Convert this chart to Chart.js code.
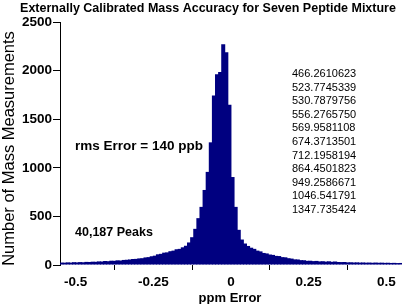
<!DOCTYPE html>
<html>
<head>
<meta charset="utf-8">
<script src="https://cdn.jsdelivr.net/npm/chart.js@4/dist/chart.umd.min.js"></script>
<style>
  html, body { margin: 0; padding: 0; background: #fff; }
  #wrap { width: 402px; height: 304px; position: relative; }
</style>
</head>
<body>
<div id="wrap"><canvas id="c" width="402" height="304"></canvas></div>
<script>
// ---- data ----
const chartTitle = "Externally Calibrated Mass Accuracy for Seven Peptide Mixture";
const xAxisTitle = "ppm Error";
const yAxisTitle = "Number of Mass Measurements";
const rmsLabel = "rms Error = 140 ppb";
const peaksLabel = "40,187 Peaks";
const peptideMasses = ["466.2610623","523.7745339","530.7879756","556.2765750","569.9581108",
  "674.3713501","712.1958194","864.4501823","949.2586671","1046.541791","1347.735424"];

// bin centres (ppm error)
const binCenters = [
  -0.545,-0.535,-0.525,-0.515,-0.505,-0.495,-0.485,-0.475,-0.465,-0.455,
  -0.445,-0.435,-0.425,-0.415,-0.405,-0.395,-0.385,-0.375,-0.365,-0.355,
  -0.345,-0.335,-0.325,-0.315,-0.305,-0.295,-0.285,-0.275,-0.265,-0.255,
  -0.245,-0.235,-0.225,-0.215,-0.205,-0.195,-0.185,-0.175,-0.165,-0.155,
  -0.145,-0.135,-0.125,-0.115,-0.105,-0.095,-0.085,-0.075,-0.065,-0.055,
  -0.045,-0.035,-0.025,-0.015,-0.005,0.005,0.015,0.025,0.035,0.045,
  0.055,0.065,0.075,0.085,0.095,0.105,0.115,0.125,0.135,0.145,
  0.155,0.165,0.175,0.185,0.195,0.205,0.215,0.225,0.235,0.245,
  0.255,0.265,0.275,0.285,0.295,0.305,0.315,0.325,0.335,0.345,
  0.355,0.365,0.375,0.385,0.395,0.405,0.415,0.425,0.435,0.445,
  0.455,0.465,0.475,0.485,0.495,0.505,0.515,0.525,0.535,0.545
];
// counts per bin
const binCounts = [
  25,24,27,25,29,27,30,28,32,31,
  34,33,37,36,41,39,44,43,48,46,
  52,54,57,62,63,68,70,78,81,90,
  96,110,115,127,130,142,148,162,166,182,
  198,232,286,372,482,598,772,958,1262,1745,
  1962,1985,2272,2190,1648,905,598,362,262,221,
  196,178,166,148,140,124,119,108,104,94,
  92,81,79,70,66,58,57,50,49,43,
  44,40,42,37,39,35,38,33,36,31,
  30,31,27,28,26,27,25,26,24,25,
  23,25,23,24,22,23,21,22,20,21
];
const xTickValues = [-0.5, -0.25, 0, 0.25, 0.5];
const xTickLabels = ["-0.5", "-0.25", "0", "0.25", "0.5"];
const yTickValues = [0, 500, 1000, 1500, 2000, 2500];
const yTickLabels = ["0", "500", "1000", "1500", "2000", "2500"];

const FONT = '"Liberation Sans", Arial, Helvetica, sans-serif';
const BAR = '#000080';

const textPlugin = {
  id: 'texts',
  afterDraw(chart) {
    const ctx = chart.ctx;
    ctx.save();
    ctx.fillStyle = '#000';
    // title
    ctx.font = 'bold 12.5px ' + FONT;
    ctx.textAlign = 'center';
    ctx.textBaseline = 'alphabetic';
    ctx.fillText(chartTitle, 208, 11.5);
    // x title
    ctx.font = 'bold 13px ' + FONT;
    ctx.fillText(xAxisTitle, 230, 302);
    // y title
    ctx.save();
    ctx.translate(14, 148.5);
    ctx.rotate(-Math.PI / 2);
    ctx.font = '16.5px ' + FONT;
    ctx.textAlign = 'center';
    ctx.fillText(yAxisTitle, 0, 0);
    ctx.restore();
    // annotations
    ctx.textAlign = 'left';
    ctx.font = 'bold 13.5px ' + FONT;
    ctx.fillText(rmsLabel, 75, 149.5);
    ctx.font = 'bold 12.5px ' + FONT;
    ctx.fillText(peaksLabel, 75, 235.5);
    ctx.font = '11px ' + FONT;
    peptideMasses.forEach((m, i) => {
      ctx.fillText(m, 292, 77 + i * 13.6);
    });
    ctx.restore();
  }
};

new Chart(document.getElementById('c'), {
  type: 'bar',
  data: {
    datasets: [{
      data: binCenters.map((x, i) => ({ x: x, y: binCounts[i] })),
      backgroundColor: BAR,
      borderColor: BAR,
      borderWidth: 0,
      inflateAmount: 0,
      barThickness: 4,
      grouped: false
    }]
  },
  options: {
    responsive: false,
    animation: false,
    devicePixelRatio: 1,
    layout: { padding: { top: 22, right: 0, left: 0, bottom: 0 } },
    plugins: { legend: { display: false }, title: { display: false }, tooltip: { enabled: false } },
    scales: {
      x: {
        type: 'linear',
        min: -0.55,
        max: 0.55,
        offset: false,
        afterFit(s) { s.height = 39; },
        afterBuildTicks(s) { s.ticks = xTickValues.map(v => ({ value: v })); },
        border: { display: false },
        grid: { drawOnChartArea: false, drawTicks: true, tickLength: 5, color: '#000', lineWidth: 1 },
        ticks: {
          color: '#000',
          font: { family: FONT, size: 13.5, weight: 'bold' },
          padding: 4,
          maxRotation: 0,
          autoSkip: false,
          callback(v) { const i = xTickValues.indexOf(v); return i >= 0 ? xTickLabels[i] : ''; }
        }
      },
      y: {
        min: 0,
        max: 2500,
        afterFit(s) { s.width = 60; },
        afterBuildTicks(s) { s.ticks = yTickValues.map(v => ({ value: v })); },
        border: { display: true, color: '#000', width: 1 },
        grid: { drawOnChartArea: false, drawTicks: true, tickLength: 7, color: '#000', lineWidth: 1 },
        ticks: {
          color: '#000',
          font: { family: FONT, size: 13.5, weight: 'bold' },
          padding: 1,
          callback(v) { const i = yTickValues.indexOf(v); return i >= 0 ? yTickLabels[i] : ''; }
        }
      }
    }
  },
  plugins: [textPlugin]
});
</script>
</body>
</html>
